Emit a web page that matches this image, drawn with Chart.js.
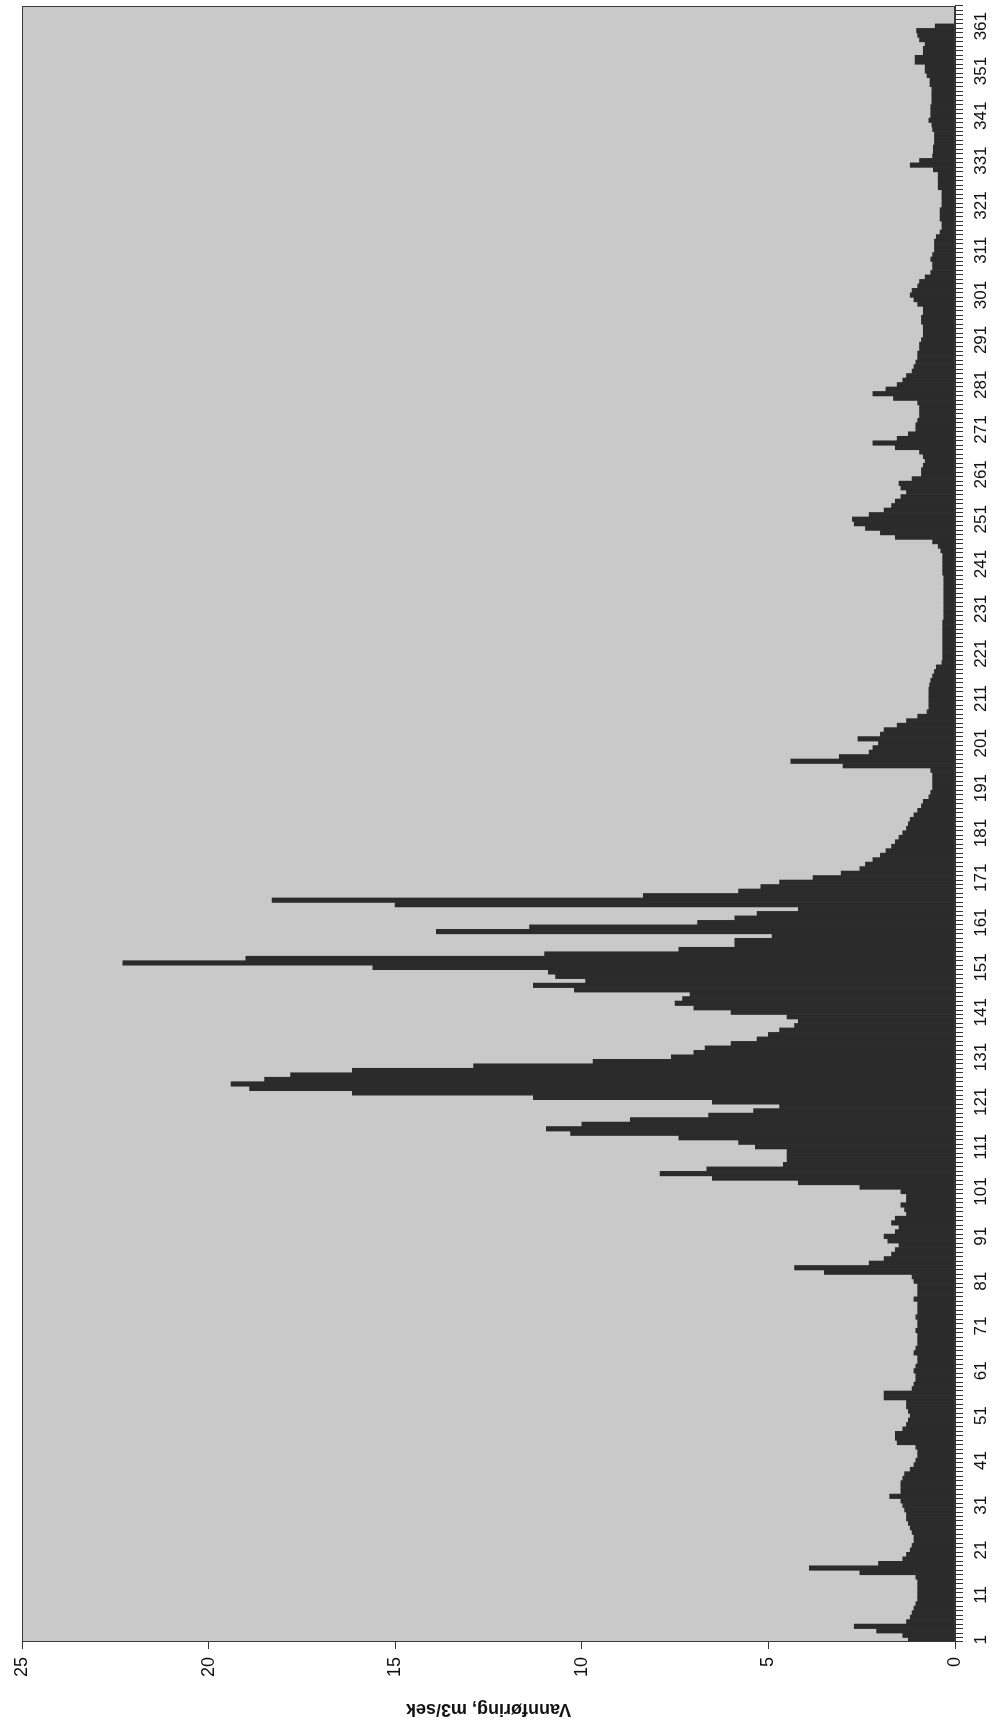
<!DOCTYPE html>
<html>
<head>
<meta charset="utf-8">
<script src="https://cdn.jsdelivr.net/npm/chart.js@4.4.1/dist/chart.umd.min.js"></script>
<style>
  html, body { margin: 0; padding: 0; background: #fff; overflow: hidden; }
  #wrap { position: relative; width: 995px; height: 1730px; }
  /* chart is drawn upright and turned a quarter counter-clockwise, as in the scan */
  #chart { position: absolute; left: 0; top: 0; transform-origin: 0 0;
           transform: translate(0, 1730px) rotate(-90deg); }
</style>
</head>
<body>
<div id="wrap"><canvas id="chart" width="1730" height="995"></canvas></div>
<script>
// daglig vannføring, m3/sek, dag 1-365
const flow = [
  1.25, 1.4, 2.1, 2.7, 1.3, 1.2, 1.15, 1.1, 1.05, 1.0,
  1.0, 1.0, 1.0, 1.0, 1.05, 2.55, 3.9, 2.05, 1.4, 1.3,
  1.2, 1.15, 1.1, 1.1, 1.15, 1.2, 1.25, 1.3, 1.3, 1.35,
  1.4, 1.45, 1.75, 1.45, 1.45, 1.45, 1.4, 1.35, 1.2, 1.1,
  1.05, 1.0, 1.0, 1.05, 1.55, 1.6, 1.6, 1.4, 1.3, 1.25,
  1.2, 1.25, 1.3, 1.3, 1.9, 1.9, 1.15, 1.1, 1.05, 1.05,
  1.1, 1.05, 1.0, 1.0, 1.1, 1.05, 1.0, 1.0, 1.0, 1.05,
  1.0, 1.0, 1.05, 1.0, 1.0, 1.0, 1.1, 1.0, 1.0, 1.0,
  1.1, 1.15, 3.5, 4.3, 2.3, 1.9, 1.7, 1.6, 1.5, 1.8,
  1.9, 1.6, 1.5, 1.7, 1.6, 1.3, 1.35, 1.45, 1.3, 1.3,
  1.45, 2.55, 4.2, 6.5, 7.9, 6.65, 4.6, 4.5, 4.5, 4.5,
  5.35, 5.8, 7.4, 10.3, 10.95, 10.0, 8.7, 6.6, 5.4, 4.7,
  6.5, 11.3, 16.15, 18.9, 19.4, 18.5, 17.8, 16.15, 12.9, 9.7,
  7.6, 7.0, 6.7, 6.0, 5.3, 5.0, 4.7, 4.3, 4.2, 4.5,
  6.0, 7.0, 7.5, 7.3, 7.1, 10.2, 11.3, 9.9, 10.7, 10.9,
  15.6, 22.3, 19.0, 11.0, 7.4, 5.9, 5.9, 4.9, 13.9, 11.4,
  6.9, 5.9, 5.3, 4.2, 15.0, 18.3, 8.35, 5.8, 5.2, 4.7,
  3.8, 3.05, 2.55, 2.4, 2.2, 2.0, 1.85, 1.7, 1.6, 1.5,
  1.4, 1.3, 1.25, 1.2, 1.1, 1.0, 0.9, 0.85, 0.7, 0.65,
  0.6, 0.6, 0.6, 0.6, 0.65, 3.0, 4.4, 3.1, 2.3, 2.2,
  2.05, 2.6, 2.0, 1.9, 1.55, 1.3, 1.0, 0.75, 0.7, 0.7,
  0.7, 0.7, 0.7, 0.68, 0.65, 0.6, 0.55, 0.5, 0.35, 0.33,
  0.33, 0.33, 0.33, 0.33, 0.33, 0.33, 0.33, 0.33, 0.3, 0.3,
  0.3, 0.3, 0.3, 0.3, 0.3, 0.3, 0.3, 0.3, 0.33, 0.33,
  0.33, 0.33, 0.33, 0.38, 0.45, 0.6, 1.6, 2.0, 2.4, 2.7,
  2.75, 2.3, 1.9, 1.7, 1.6, 1.45, 1.3, 1.45, 1.5, 1.15,
  0.9, 0.9, 0.85, 0.8, 0.85, 0.95, 1.6, 2.2, 1.55, 1.25,
  1.05, 1.05, 1.0, 0.95, 0.95, 0.95, 1.0, 1.65, 2.2, 1.85,
  1.55, 1.4, 1.3, 1.15, 1.1, 1.05, 1.0, 1.0, 0.95, 0.95,
  0.9, 0.85, 0.85, 0.85, 0.9, 0.9, 0.85, 0.85, 1.0, 1.1,
  1.2, 1.15, 1.0, 0.95, 0.8, 0.65, 0.6, 0.6, 0.65, 0.6,
  0.55, 0.55, 0.55, 0.5, 0.4, 0.35, 0.35, 0.4, 0.4, 0.4,
  0.35, 0.35, 0.35, 0.35, 0.45, 0.45, 0.45, 0.45, 0.58, 1.2,
  0.95, 0.6, 0.58, 0.58, 0.55, 0.55, 0.55, 0.6, 0.62, 0.7,
  0.65, 0.65, 0.65, 0.62, 0.62, 0.62, 0.62, 0.67, 0.67, 0.75,
  0.8, 0.8, 1.07, 1.07, 0.85, 0.85, 0.8, 0.95, 1.0, 1.03,
  0.53, 0, 0, 0, 0
];

const days = flow.map((v, i) => String(i + 1));
const tickDays = ['1', '11', '21', '31', '41', '51', '61', '71', '81', '91',
  '101', '111', '121', '131', '141', '151', '161', '171', '181', '191',
  '201', '211', '221', '231', '241', '251', '261', '271', '281', '291',
  '301', '311', '321', '331', '341', '351', '361'];
const valueTicks = [0, 5, 10, 15, 20, 25];
const yTitle = 'Vannføring, m3/sek';

const FONT = '"Liberation Sans", Arial, sans-serif';

// grå bakgrunn og ramme rundt plottet
const plotFrame = {
  id: 'plotFrame',
  beforeDatasetsDraw(chart) {
    const a = chart.chartArea, c = chart.ctx;
    c.save();
    c.fillStyle = '#c9c9c9';
    c.fillRect(a.left, a.top, a.right - a.left, a.bottom - a.top);
    c.restore();
  },
  afterDraw(chart) {
    const a = chart.chartArea, c = chart.ctx;
    c.save();
    c.strokeStyle = '#3a3a3a';
    c.lineWidth = 1;
    c.strokeRect(a.left + 0.5, a.top + 0.5, a.right - a.left - 1, a.bottom - a.top - 1);
    c.restore();
  }
};

new Chart(document.getElementById('chart'), {
  type: 'bar',
  data: {
    labels: days,
    datasets: [{
      data: flow,
      backgroundColor: '#2b2b2b',
      borderWidth: 0,
      barPercentage: 1.0,
      categoryPercentage: 1.0
    }]
  },
  options: {
    responsive: false,
    animation: false,
    devicePixelRatio: 1,
    layout: { padding: { top: 22, right: 6, left: 0, bottom: 0 } },
    plugins: { legend: { display: false }, tooltip: { enabled: false } },
    scales: {
      x: {
        grid: { drawOnChartArea: false, tickLength: 8, color: '#333' },
        border: { color: '#333' },
        ticks: {
          autoSkip: false, maxRotation: 0, minRotation: 0, padding: 8,
          color: '#111', font: { family: FONT, size: 17 },
          callback: function(val, i) {
            const lab = this.getLabelForValue(val);
            return tickDays.includes(lab) ? lab : '';
          }
        },
        afterFit: s => { s.height = 40; }
      },
      y: {
        min: 0, max: 25,
        afterBuildTicks: s => { s.ticks = valueTicks.map(v => ({ value: v })); },
        grid: { drawOnChartArea: false, tickLength: 7, color: '#333' },
        border: { color: '#333' },
        ticks: { padding: 8, color: '#111', font: { family: FONT, size: 18 } },
        title: {
          display: true, text: yTitle, color: '#111',
          font: { family: FONT, size: 18, weight: 'bold' },
          padding: { top: 10, bottom: 0 }
        },
        afterFit: s => { s.width = 88; }
      }
    }
  },
  plugins: [plotFrame]
});
</script>
</body>
</html>
